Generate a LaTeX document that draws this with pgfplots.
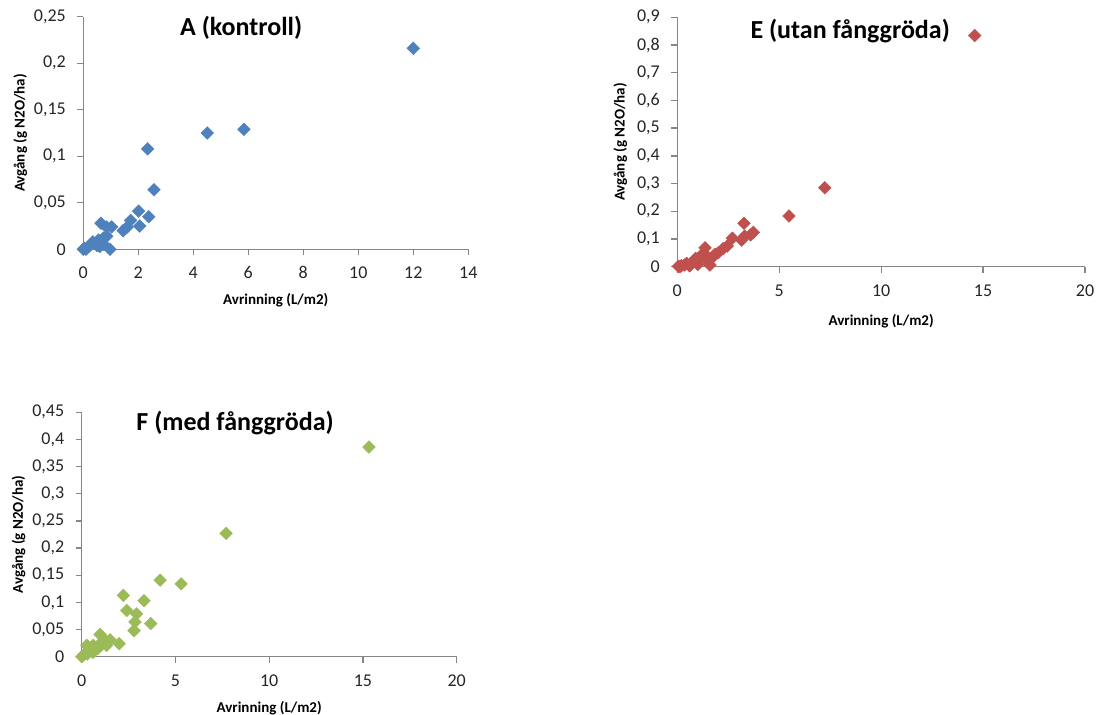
\documentclass[border=0pt]{standalone}
\usepackage{pgfplots}
\pgfplotsset{compat=1.18}
\usepackage{fontspec}
\setmainfont{Carlito}
\definecolor{ablue}{HTML}{4F81BD}
\definecolor{ered}{HTML}{C0504D}
\definecolor{fgreen}{HTML}{9BBB59}
\definecolor{axgray}{HTML}{868686}
\pgfplotsset{
  excel/.style={
    scale only axis,
    anchor=south west,
    axis lines=left,
    axis line style={draw=axgray, line width=1.3pt, -},
    tick style={draw=axgray, line width=1.3pt},
    major tick length=6pt,
    tick align=outside,
    tick label style={font=\fontsize{18}{20}\selectfont, text=black!85},
    xticklabel style={text height=12pt, text depth=0pt, yshift=-8pt},
    yticklabel style={xshift=-8pt},
    xlabel style={font=\bfseries\fontsize{15}{17}\selectfont, anchor=center},
    ylabel style={font=\bfseries\fontsize{15}{17}\selectfont, anchor=center},
    clip=false,
    ymin=0,
    xmin=0,
    xtick pos=left, ytick pos=left,
  },
  dia/.style={only marks, mark=square*, mark size=4.5pt,
    mark options={fill=#1, draw=#1, rotate=45}},
}
\begin{document}
\begin{tikzpicture}
\useasboundingbox (0,0) rectangle (1096pt,715pt);
% Panel A
\begin{axis}[excel,
  at={(83.3pt,465.7pt)}, width=385pt, height=232.6pt,
  xmax=14, ymax=0.25,
  xtick={0,2,4,6,8,10,12,14}, xticklabels={0,2,4,6,8,10,12,14},
  ytick={0,0.05,0.1,0.15,0.2,0.25}, yticklabels={0,{0,05},{0,1},{0,15},{0,2},{0,25}},
  xlabel={Avrinning (L/m2)}, ylabel={Avgång (g N2O/ha)},
  xlabel style={at={([yshift=-51pt]axis description cs:0.5,0)}},
  ylabel style={at={([xshift=-63pt]axis description cs:0,0.5)}},
]
\addplot[dia=ablue] coordinates {
(0,0) (0.05,0.001) (0.1,0) (0.2,0.003) (0.3,0.006) (0.35,0.008) (0.5,0.004)
(0.55,0.01) (0.6,0.003) (0.64,0.028) (0.73,0.012) (0.75,0.005) (0.84,0.024)
(0.85,0.014) (0.97,0) (1.03,0.024) (1.45,0.02) (1.6,0.024) (1.72,0.031)
(2.01,0.041) (2.05,0.025) (2.38,0.035) (2.34,0.108) (2.57,0.064)
(4.51,0.125) (5.84,0.129) (12.0,0.216)
};
\node[font=\bfseries\fontsize{26}{30}\selectfont] at (rel axis cs:0.41,0.951) {A (kontroll)};
\end{axis}
% Panel E
\begin{axis}[excel,
  at={(677.3pt,448.3pt)}, width=407.7pt, height=249.4pt,
  xmax=20, ymax=0.9,
  xtick={0,5,10,15,20}, xticklabels={0,5,10,15,20},
  ytick={0,0.1,0.2,0.3,0.4,0.5,0.6,0.7,0.8,0.9},
  yticklabels={0,{0,1},{0,2},{0,3},{0,4},{0,5},{0,6},{0,7},{0,8},{0,9}},
  xlabel={Avrinning (L/m2)}, ylabel={Avgång (g N2O/ha)},
  xlabel style={at={([yshift=-55pt]axis description cs:0.5,0)}},
  ylabel style={at={([xshift=-57pt]axis description cs:0,0.5)}},
]
\addplot[dia=ered] coordinates {
(0.05,0.001) (0.13,0) (0.2,0.004) (0.35,0.006) (0.46,0.012) (0.6,0.003)
(0.78,0.02) (0.9,0.03) (1.0,0.008) (1.11,0.025) (1.2,0.04) (1.3,0.05)
(1.36,0.068) (1.5,0.02) (1.6,0.006) (1.68,0.03) (1.85,0.045) (2.0,0.05)
(2.25,0.065) (2.45,0.075) (2.7,0.103) (3.16,0.096) (3.3,0.11) (3.27,0.157)
(3.6,0.115) (3.73,0.124) (5.48,0.183) (7.23,0.285) (14.59,0.834)
};
\node[font=\bfseries\fontsize{26}{30}\selectfont] at (rel axis cs:0.424,0.945) {E (utan fånggröda)};
\end{axis}
% Panel F
\begin{axis}[excel,
  at={(81.7pt,58.3pt)}, width=375pt, height=244.4pt,
  xmax=20, ymax=0.45,
  xtick={0,5,10,15,20}, xticklabels={0,5,10,15,20},
  ytick={0,0.05,0.1,0.15,0.2,0.25,0.3,0.35,0.4,0.45},
  yticklabels={0,{0,05},{0,1},{0,15},{0,2},{0,25},{0,3},{0,35},{0,4},{0,45}},
  xlabel={Avrinning (L/m2)}, ylabel={Avgång (g N2O/ha)},
  xlabel style={at={([yshift=-52pt]axis description cs:0.5,0)}},
  ylabel style={at={([xshift=-63pt]axis description cs:0,0.5)}},
]
\addplot[dia=fgreen] coordinates {
(0,0) (0.09,0.003) (0.2,0.006) (0.3,0.005) (0.35,0.018) (0.27,0.021)
(0.5,0.012) (0.6,0.008) (0.62,0.021) (0.85,0.015) (0.98,0.041) (1.0,0.02)
(1.1,0.028) (1.25,0.03) (1.33,0.021) (1.51,0.031) (2.0,0.024) (2.22,0.113)
(2.4,0.085) (2.79,0.048) (2.84,0.064) (2.93,0.079) (3.32,0.103) (3.68,0.061)
(4.18,0.141) (5.3,0.134) (7.70,0.227) (15.32,0.386)
};
\node[font=\bfseries\fontsize{26}{30}\selectfont] at (rel axis cs:0.409,0.955) {F (med fånggröda)};
\end{axis}
\end{tikzpicture}
\end{document}
